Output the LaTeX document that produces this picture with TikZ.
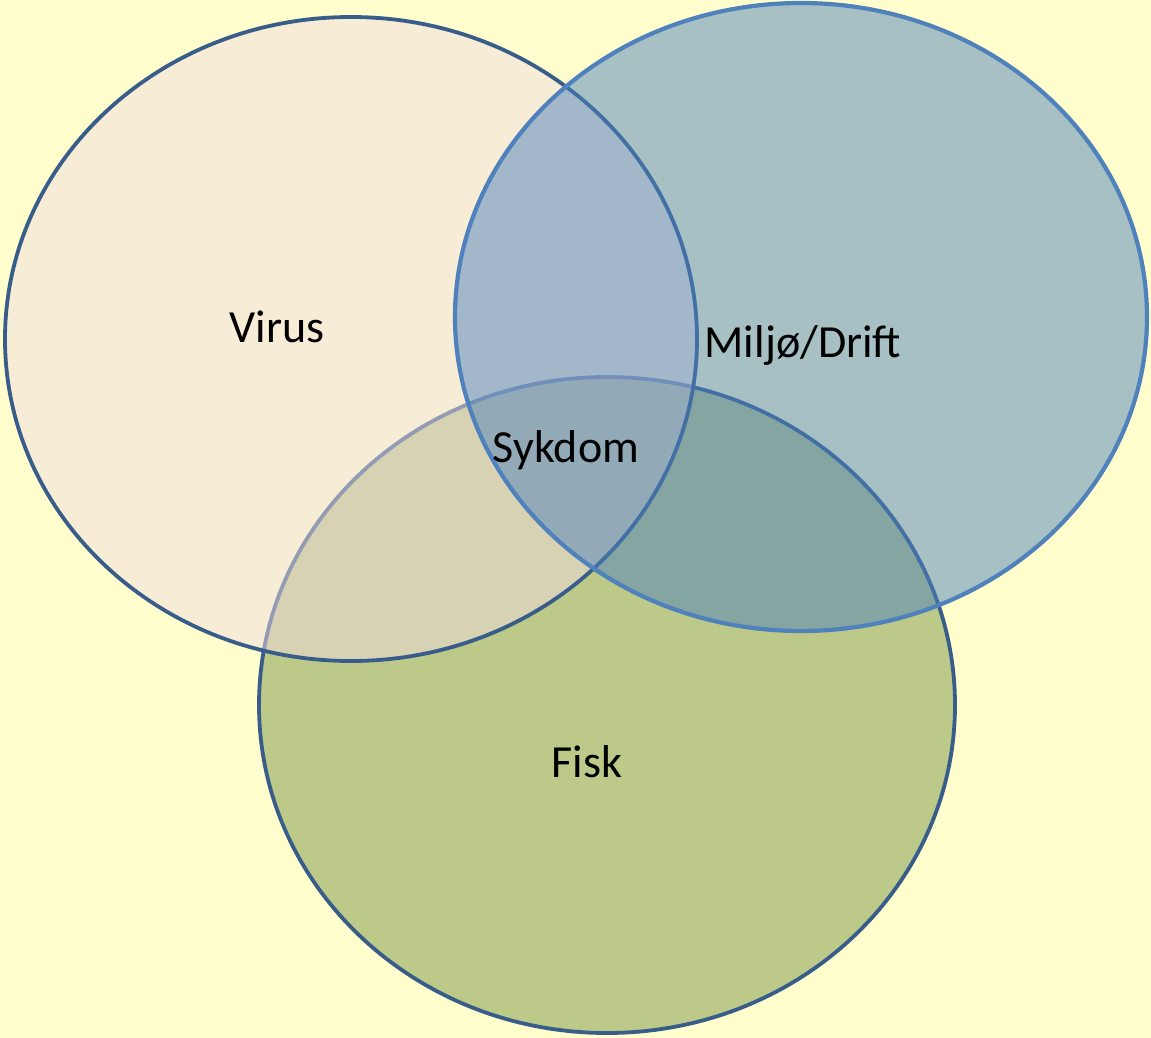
\documentclass[tikz,border=0pt]{standalone}
\usepackage{fontspec}
\setmainfont{Carlito}
\begin{document}
\begin{tikzpicture}[x=1pt,y=-1pt,
  lbl/.style={font=\fontsize{46}{50}\selectfont, text=black, inner sep=0pt, anchor=base},
  darkline/.style={draw=edgedark, line width=3.8pt},
  blueline/.style={draw=edgeblue, line width=4.2pt}]
\definecolor{bgyellow}{RGB}{255,254,204}
\definecolor{edgedark}{RGB}{56,93,138}
\definecolor{edgeblue}{RGB}{79,129,189}
\definecolor{fiskfill}{RGB}{188,201,136}
\definecolor{virusfill}{RGB}{240,219,223}
\definecolor{miljofill}{RGB}{79,131,190}
\fill[bgyellow] (0,0) rectangle (1151,1038);
\useasboundingbox (0,0) rectangle (1151,1038);
% Fisk (bottom)
\path[fill=fiskfill, darkline] (607,705) ellipse [x radius=348pt, y radius=328pt];
% Virus
\path[fill=virusfill, fill opacity=0.5] (351,339) ellipse [x radius=346pt, y radius=322pt];
\path[darkline] (351,339) ellipse [x radius=346pt, y radius=322pt];
% Miljo
\path[fill=miljofill, fill opacity=0.5] (801,317) ellipse [x radius=346pt, y radius=314pt];
\path[blueline] (801,317) ellipse [x radius=346pt, y radius=314pt];
% labels
\node[lbl] (virus) at (277,342) {Virus};
\node[lbl] (miljo) at (803,357) {Miljø/Drift};
\node[lbl] (sykdom) at (566,462) {Sykdom};
\node[lbl] (fisk) at (587,777) {Fisk};
\end{tikzpicture}
\end{document}
